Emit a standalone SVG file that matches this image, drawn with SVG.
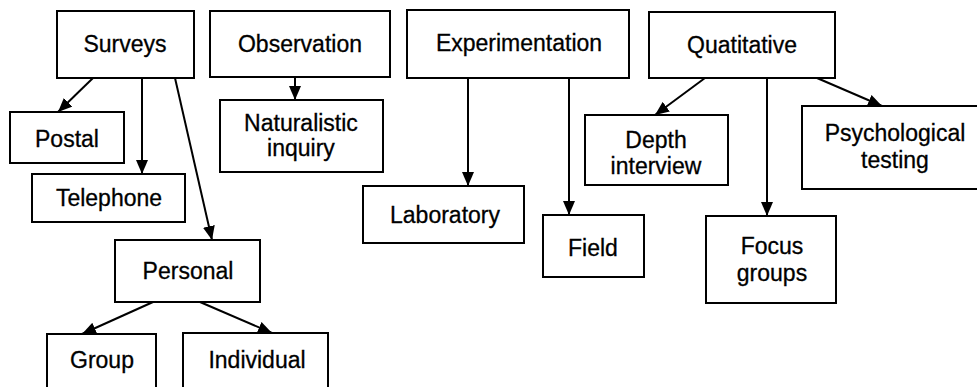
<svg xmlns="http://www.w3.org/2000/svg" width="977" height="387" viewBox="0 0 977 387">
  <style>
    .box { fill: #fff; stroke: #000; stroke-width: 2; }
    .lbl { font-family: "Liberation Sans", Arial, sans-serif; font-size: 23px; fill: #000; stroke: #000; stroke-width: 0.3; text-anchor: middle; }
    .edge { stroke: #000; stroke-width: 2; fill: none; marker-end: url(#arrow); }
  </style>
  <defs>
    <marker id="arrow" markerUnits="userSpaceOnUse" markerWidth="14" markerHeight="12" viewBox="0 0 14 12" refX="14" refY="6" orient="auto">
      <path d="M0,0 L14,6 L0,12 Z" fill="#000"/>
    </marker>
  </defs>
  <rect width="977" height="387" fill="#fff"/>

  <!-- connectors -->
  <g id="connectors">
    <line class="edge" x1="93" y1="78" x2="58" y2="112"/>
    <line class="edge" x1="142" y1="78" x2="142" y2="174"/>
    <line class="edge" x1="175" y1="78" x2="212" y2="240"/>
    <line class="edge" x1="153" y1="302" x2="82" y2="334"/>
    <line class="edge" x1="200" y1="302" x2="272" y2="333"/>
    <line class="edge" x1="295" y1="78" x2="295" y2="100"/>
    <line class="edge" x1="468" y1="78" x2="468" y2="186"/>
    <line class="edge" x1="569" y1="78" x2="569" y2="215"/>
    <line class="edge" x1="705" y1="78" x2="655" y2="115"/>
    <line class="edge" x1="767" y1="78" x2="767" y2="216"/>
    <line class="edge" x1="817" y1="78" x2="882" y2="106"/>
  </g>

  <g id="surveys">
    <rect class="box" x="57" y="11" width="137" height="67"/>
    <text class="lbl" x="125" y="52">Surveys</text>
  </g>
  <g id="observation">
    <rect class="box" x="210" y="11" width="180" height="66"/>
    <text class="lbl" x="300" y="52">Observation</text>
  </g>
  <g id="experimentation">
    <rect class="box" x="407" y="10" width="222" height="68"/>
    <text class="lbl" x="519" y="51">Experimentation</text>
  </g>
  <g id="quatitative">
    <rect class="box" x="649" y="12" width="186" height="66"/>
    <text class="lbl" x="742" y="53">Quatitative</text>
  </g>
  <g id="postal">
    <rect class="box" x="10" y="112" width="114" height="51"/>
    <text class="lbl" x="67" y="147">Postal</text>
  </g>
  <g id="telephone">
    <rect class="box" x="32" y="174" width="153" height="48"/>
    <text class="lbl" x="109" y="206">Telephone</text>
  </g>
  <g id="personal">
    <rect class="box" x="115" y="240" width="145" height="62"/>
    <text class="lbl" x="188" y="279">Personal</text>
  </g>
  <g id="group">
    <rect class="box" x="47" y="334" width="109" height="60"/>
    <text class="lbl" x="102" y="368">Group</text>
  </g>
  <g id="individual">
    <rect class="box" x="183" y="333" width="145" height="61"/>
    <text class="lbl" x="257" y="368">Individual</text>
  </g>
  <g id="naturalistic-inquiry">
    <rect class="box" x="220" y="100" width="163" height="72"/>
    <text class="lbl" x="301" y="131">Naturalistic</text>
    <text class="lbl" x="301" y="156">inquiry</text>
  </g>
  <g id="laboratory">
    <rect class="box" x="363" y="186" width="161" height="57"/>
    <text class="lbl" x="445" y="223">Laboratory</text>
  </g>
  <g id="field">
    <rect class="box" x="543" y="215" width="101" height="62"/>
    <text class="lbl" x="593" y="256">Field</text>
  </g>
  <g id="depth-interview">
    <rect class="box" x="585" y="115" width="143" height="70"/>
    <text class="lbl" x="656" y="148">Depth</text>
    <text class="lbl" x="656" y="174">interview</text>
  </g>
  <g id="focus-groups">
    <rect class="box" x="706" y="216" width="130" height="87"/>
    <text class="lbl" x="772" y="254">Focus</text>
    <text class="lbl" x="772" y="281">groups</text>
  </g>
  <g id="psychological-testing">
    <rect class="box" x="802" y="106" width="180" height="83"/>
    <text class="lbl" x="895" y="141">Psychological</text>
    <text class="lbl" x="895" y="168">testing</text>
  </g>
</svg>
